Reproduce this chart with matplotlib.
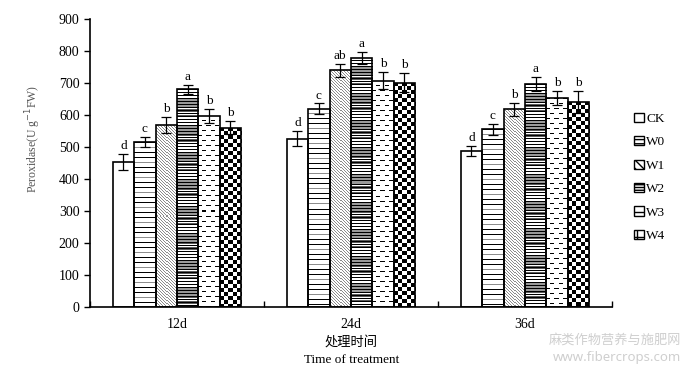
import matplotlib
matplotlib.use("Agg")
import matplotlib.pyplot as plt
import numpy as np
from matplotlib.patches import Patch

# data
times = ["12d", "24d", "36d"]
treatments = ["CK", "W0", "W1", "W2", "W3", "W4"]
peroxidase = {
    "CK": [454, 526, 487],
    "W0": [515, 620, 555],
    "W1": [569, 740, 618],
    "W2": [680, 779, 696],
    "W3": [597, 707, 652],
    "W4": [560, 701, 641],
}
errors = {
    "CK": [25, 23, 16],
    "W0": [16, 16, 18],
    "W1": [25, 20, 20],
    "W2": [15, 19, 22],
    "W3": [23, 27, 22],
    "W4": [20, 30, 35],
}
letters = {
    "CK": ["d", "d", "d"],
    "W0": ["c", "c", "c"],
    "W1": ["b", "ab", "b"],
    "W2": ["a", "a", "a"],
    "W3": ["b", "b", "b"],
    "W4": ["b", "b", "b"],
}

serif = ["Liberation Serif", "DejaVu Serif"]
cjk = ["Noto Sans CJK SC", "DejaVu Sans"]


# pixel patterns used to fill the bars (value 0 = black, 1 = white)
def pat_white(r, c):
    return np.ones_like(r, dtype=float)

def pat_hlines(r, c):
    out = np.ones_like(r, dtype=float)
    out[(r % 5) == 0] = 0.0
    out[((r % 5) == 0) & ((r // 5) % 3 == 1)] = 0.55
    return out

def pat_diag(r, c):
    out = np.ones_like(r, dtype=float)
    out[((c - r) % 3) == 0] = 0.55
    return out

def pat_dense(r, c):
    out = np.ones_like(r, dtype=float)
    band = (r // 9) % 3
    out[band == 1] = 0.6
    out[(band == 2) & (r % 2 == 0)] = 0.35
    out[(r % 3) == 0] = 0.0
    return out

def pat_dash(r, c):
    out = np.ones_like(r, dtype=float)
    row = r // 5
    on = ((c + (row % 2) * 4) % 8) < 4
    out[((r % 5) == 0) & on] = 0.0
    return out

def pat_check(r, c):
    return (((r // 4) + (c // 4)) % 2).astype(float)

patterns = {"CK": pat_white, "W0": pat_hlines, "W1": pat_diag,
            "W2": pat_dense, "W3": pat_dash, "W4": pat_check}
legend_hatch = {"CK": "", "W0": "----", "W1": "\\\\\\\\", "W2": "------",
                "W3": "--", "W4": "++"}

fig = plt.figure(figsize=(6.89, 3.72), dpi=100)
ax = fig.add_axes([0.1306, 0.1747, 0.7576, 0.7742])

ax.set_xlim(0, 3)
ax.set_ylim(0, 900)
fig.canvas.draw()

x = np.arange(len(times)) + 0.5
w = 0.123
px_per_x = ax.bbox.width / 3.0
px_per_y = ax.bbox.height / 900.0

for i, t in enumerate(treatments):
    pos = x + (i - 2.5) * w
    bars = ax.bar(pos, peroxidase[t], w, facecolor="none", edgecolor="black",
                  linewidth=1.2, zorder=3)
    ax.errorbar(pos, peroxidase[t], yerr=errors[t], fmt="none", ecolor="black",
                elinewidth=0.9, capsize=3.5, capthick=0.9, zorder=4)
    for b, v, e, lab in zip(bars, peroxidase[t], errors[t], letters[t]):
        x0, x1 = b.get_x(), b.get_x() + b.get_width()
        ncol = max(int(round(b.get_width() * px_per_x)), 1)
        nrow = max(int(round(v * px_per_y)), 1)
        r, c = np.mgrid[0:nrow, 0:ncol]
        img = patterns[t](r, c)
        im = ax.imshow(img, cmap="gray", vmin=0, vmax=1, extent=(x0, x1, 0, v),
                       aspect="auto", interpolation="nearest", zorder=2)
        im.set_clip_path(b)
        ax.text(b.get_x() + b.get_width() / 2, v + e + 6, lab, ha="center",
                va="bottom", fontsize=9.5, family=serif)

ax.set_xlim(0, 3)
ax.set_ylim(0, 900)
ax.set_aspect("auto")

ax.spines["top"].set_visible(False)
ax.spines["right"].set_visible(False)
ax.spines["left"].set_linewidth(1.2)
ax.spines["bottom"].set_linewidth(1.2)

ax.set_yticks(np.arange(0, 901, 100))
ax.tick_params(axis="y", direction="out", length=4, width=1, labelsize=10)
ax.set_xticks(x)
ax.set_xticklabels(times)
ax.tick_params(axis="x", which="major", length=0, labelsize=10, pad=8)
ax.set_xticks([0, 1, 2, 3], minor=True)
ax.tick_params(axis="x", which="minor", direction="in", length=4, width=1)
for lbl in ax.get_xticklabels() + ax.get_yticklabels():
    lbl.set_family(serif)

ax.set_ylabel("Peroxidase(U g$^{-1}$FW)", fontsize=8.5, family=serif,
              color="#555555")
ax.yaxis.set_label_coords(-0.09, 0.583)

fig.text(0.51, 0.081, "处理时间", ha="center", va="center", fontsize=9.5,
         family=cjk)
fig.text(0.51, 0.033, "Time of treatment", ha="center", va="center",
         fontsize=9.5, family=serif)

fig.text(0.988, 0.085, "麻类作物营养与施肥网", ha="right", va="center",
         fontsize=9.5, family=cjk, color="#cfcfcf")
fig.text(0.988, 0.038, "www.fibercrops.com", ha="right", va="center",
         fontsize=9.5, family=["Noto Sans", "DejaVu Sans"], color="#cfcfcf")

handles = [Patch(facecolor="white", edgecolor="black", hatch=legend_hatch[t],
                 linewidth=1) for t in treatments]
leg = ax.legend(handles, treatments, loc="center left",
                bbox_to_anchor=(1.02, 0.45), frameon=False,
                handlelength=0.7, handleheight=0.7, handletextpad=0.2,
                labelspacing=0.85, prop={"family": serif, "size": 9.5})

fig.savefig("out.png", dpi=100)
